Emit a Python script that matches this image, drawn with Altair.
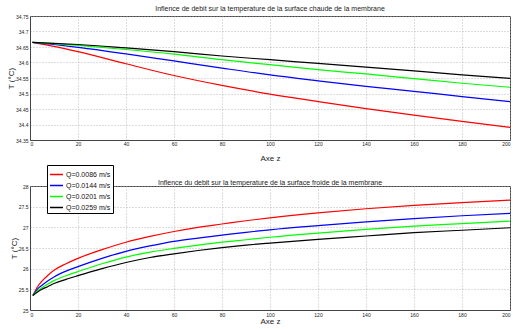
import altair as alt
import pandas as pd

series = ["Q=0.0086 m/s", "Q=0.0144 m/s", "Q=0.0201 m/s", "Q=0.0259 m/s"]
colors = ["#ff0000", "#0000ff", "#00ff00", "#000000"]

# Top panel: hot membrane surface temperature
z_top = [1, 10, 20, 40, 60, 80, 100, 120, 140, 160, 180, 200]
t_top_red = [34.665, 34.652, 34.635, 34.596, 34.558, 34.526, 34.498, 34.474, 34.451, 34.430, 34.410, 34.391]
t_top_blue = [34.665, 34.658, 34.649, 34.628, 34.605, 34.582, 34.560, 34.541, 34.523, 34.507, 34.490, 34.474]
t_top_green = [34.665, 34.661, 34.655, 34.642, 34.627, 34.609, 34.593, 34.577, 34.563, 34.548, 34.533, 34.520]
t_top_black = [34.665, 34.662, 34.658, 34.647, 34.635, 34.621, 34.609, 34.597, 34.585, 34.573, 34.560, 34.549]

# Bottom panel: cold membrane surface temperature
z_bot = [1.2, 3, 5, 7.5, 10, 15, 20, 30, 40, 50, 60, 70, 80, 90, 100, 120, 140, 160, 180, 200]
t_bot_red = [25.35, 25.55, 25.70, 25.84, 25.96, 26.12, 26.25, 26.46, 26.64, 26.78, 26.90, 27.00, 27.08, 27.16, 27.23, 27.35, 27.45, 27.53, 27.60, 27.66]
t_bot_blue = [25.35, 25.50, 25.60, 25.71, 25.80, 25.94, 26.05, 26.25, 26.42, 26.55, 26.66, 26.74, 26.81, 26.88, 26.94, 27.04, 27.13, 27.21, 27.28, 27.34]
t_bot_green = [25.35, 25.46, 25.54, 25.63, 25.71, 25.83, 25.93, 26.12, 26.28, 26.40, 26.49, 26.57, 26.64, 26.70, 26.76, 26.86, 26.95, 27.03, 27.09, 27.15]
t_bot_black = [25.35, 25.43, 25.50, 25.57, 25.64, 25.74, 25.83, 26.00, 26.15, 26.27, 26.36, 26.44, 26.51, 26.57, 26.62, 26.71, 26.79, 26.87, 26.93, 26.99]

x_ticks = list(range(0, 201, 20))
y_ticks_top = [34.35, 34.4, 34.45, 34.5, 34.55, 34.6, 34.65, 34.7, 34.75]
y_ticks_bot = [25, 25.5, 26, 26.5, 27, 27.5, 28]


def long(z, cols):
    rows = []
    for i, (s, vals) in enumerate(zip(series, cols)):
        for zz, v in zip(z, vals):
            rows.append({"z": zz, "T": v, "serie": s, "o": i})
    return pd.DataFrame(rows)


df_top = long(z_top, [t_top_red, t_top_blue, t_top_green, t_top_black])
df_bot = long(z_bot, [t_bot_red, t_bot_blue, t_bot_green, t_bot_black])

FONT = "Liberation Sans"
color_scale = alt.Scale(domain=series, range=colors)

legend = alt.Legend(title=None, orient="none", legendX=17, legendY=149,
                    symbolType="stroke", symbolSize=170, symbolStrokeWidth=1.5,
                    labelFontSize=7, labelFont=FONT, labelColor="#111",
                    strokeColor="#000", fillColor="#fff", padding=2, rowPadding=0,
                    cornerRadius=0, labelOffset=2, zindex=5)


def panel(df, ydom, yticks, title, lab_pad, title_pad, t_off):
    x_axis = alt.Axis(values=x_ticks, title="Axe z", format="d", labelFontSize=5,
                      labelPadding=lab_pad, titleFontSize=8, titleFontWeight="normal",
                      titlePadding=title_pad, titleColor="#222")
    return alt.Chart(df).mark_line(strokeWidth=1.2, interpolate="monotone", clip=True).encode(
        x=alt.X("z:Q", scale=alt.Scale(domain=[0, 200], nice=False), axis=x_axis),
        y=alt.Y("T:Q", scale=alt.Scale(domain=ydom, nice=False, zero=False),
                axis=alt.Axis(values=yticks, format="~g", title="T (°C)", labelFontSize=5,
                              labelPadding=2, titleFontSize=8, titleFontWeight="normal",
                              titlePadding=0, titleColor="#222")),
        color=alt.Color("serie:N", scale=color_scale, legend=legend),
        order="o:O",
    ).properties(
        width=480, height=124,
        title=alt.TitleParams(title, fontSize=7, fontWeight="normal", font=FONT,
                              color="#222", anchor="middle", offset=t_off),
    )


top = panel(df_top, [34.35, 34.75], y_ticks_top,
            "Inflence de debit sur la temperature de la surface chaude de la membrane", 1, 8, 2)
bottom = panel(df_bot, [25, 28], y_ticks_bot,
               "Inflence du debit sur la temperature de la surface froide de la membrane", 2, 0, -2)

chart = alt.vconcat(top, bottom, spacing=15).properties(
    padding={"left": 6, "top": 4, "right": 0, "bottom": 0},
    background="white",
).configure_axis(
    grid=True, gridColor="#aaaaaa", gridDash=[1, 2], gridWidth=0.8,
    domainColor="#444", ticks=False, labelFont=FONT, titleFont=FONT, labelColor="#222",
).configure_view(stroke="#444", strokeWidth=1)

chart.save("out.html", embed_options={"renderer": "svg", "actions": False})
